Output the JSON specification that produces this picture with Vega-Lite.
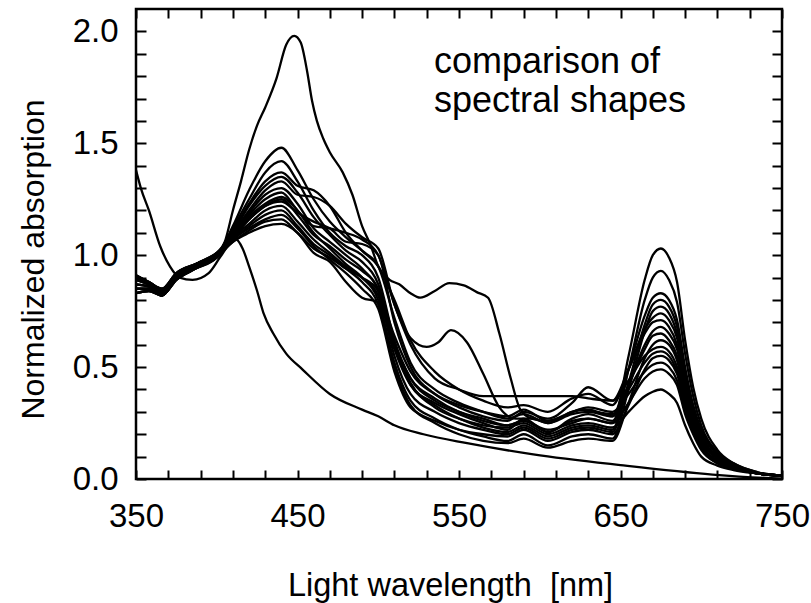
{
"$schema": "https://vega.github.io/schema/vega-lite/v6.json",
"width": 646, "height": 470,
"autosize": {"type": "none"},
"padding": {"left": 136, "top": 9, "right": 29, "bottom": 124},
"background": "white",
"config": {"view": {"stroke": "black", "strokeWidth": 2.5}, "font": "Liberation Sans"},
"datasets": {
"curves": [
{"c":"c1","x":350,"y":0.91},{"c":"c1","x":358,"y":0.88},{"c":"c1","x":366,"y":0.85},{"c":"c1","x":375,"y":0.92},{"c":"c1","x":387,"y":0.96},{"c":"c1","x":400,"y":1.00},{"c":"c1","x":410,"y":1.13},{"c":"c1","x":420,"y":1.29},{"c":"c1","x":430,"y":1.42},{"c":"c1","x":440,"y":1.48},{"c":"c1","x":450,"y":1.38},{"c":"c1","x":460,"y":1.25},{"c":"c1","x":470,"y":1.15},{"c":"c1","x":480,"y":1.08},{"c":"c1","x":490,"y":1.02},{"c":"c1","x":500,"y":0.95},{"c":"c1","x":510,"y":0.72},{"c":"c1","x":520,"y":0.52},{"c":"c1","x":535,"y":0.40},{"c":"c1","x":550,"y":0.34},{"c":"c1","x":565,"y":0.30},{"c":"c1","x":580,"y":0.27},{"c":"c1","x":590,"y":0.29},{"c":"c1","x":605,"y":0.25},{"c":"c1","x":620,"y":0.30},{"c":"c1","x":630,"y":0.31},{"c":"c1","x":645,"y":0.28},{"c":"c1","x":655,"y":0.49},{"c":"c1","x":665,"y":0.73},{"c":"c1","x":670,"y":0.81},{"c":"c1","x":675,"y":0.83},{"c":"c1","x":680,"y":0.80},{"c":"c1","x":685,"y":0.71},{"c":"c1","x":690,"y":0.50},{"c":"c1","x":695,"y":0.33},{"c":"c1","x":700,"y":0.22},{"c":"c1","x":710,"y":0.11},{"c":"c1","x":720,"y":0.06},{"c":"c1","x":735,"y":0.025},{"c":"c1","x":750,"y":0.015},
{"c":"c2","x":350,"y":0.89},{"c":"c2","x":358,"y":0.87},{"c":"c2","x":366,"y":0.84},{"c":"c2","x":375,"y":0.91},{"c":"c2","x":387,"y":0.95},{"c":"c2","x":400,"y":0.99},{"c":"c2","x":410,"y":1.12},{"c":"c2","x":420,"y":1.25},{"c":"c2","x":430,"y":1.37},{"c":"c2","x":440,"y":1.42},{"c":"c2","x":450,"y":1.33},{"c":"c2","x":460,"y":1.20},{"c":"c2","x":470,"y":1.10},{"c":"c2","x":480,"y":1.04},{"c":"c2","x":490,"y":1.00},{"c":"c2","x":500,"y":0.90},{"c":"c2","x":510,"y":0.62},{"c":"c2","x":520,"y":0.45},{"c":"c2","x":535,"y":0.35},{"c":"c2","x":550,"y":0.30},{"c":"c2","x":565,"y":0.26},{"c":"c2","x":580,"y":0.24},{"c":"c2","x":590,"y":0.26},{"c":"c2","x":605,"y":0.21},{"c":"c2","x":620,"y":0.26},{"c":"c2","x":630,"y":0.27},{"c":"c2","x":645,"y":0.25},{"c":"c2","x":655,"y":0.55},{"c":"c2","x":665,"y":0.89},{"c":"c2","x":670,"y":1.00},{"c":"c2","x":675,"y":1.03},{"c":"c2","x":680,"y":0.99},{"c":"c2","x":685,"y":0.88},{"c":"c2","x":690,"y":0.62},{"c":"c2","x":695,"y":0.41},{"c":"c2","x":700,"y":0.27},{"c":"c2","x":710,"y":0.13},{"c":"c2","x":720,"y":0.07},{"c":"c2","x":735,"y":0.03},{"c":"c2","x":750,"y":0.015},
{"c":"c3","x":350,"y":0.87},{"c":"c3","x":358,"y":0.86},{"c":"c3","x":366,"y":0.83},{"c":"c3","x":375,"y":0.90},{"c":"c3","x":387,"y":0.95},{"c":"c3","x":400,"y":1.00},{"c":"c3","x":410,"y":1.11},{"c":"c3","x":420,"y":1.23},{"c":"c3","x":430,"y":1.33},{"c":"c3","x":440,"y":1.37},{"c":"c3","x":450,"y":1.31},{"c":"c3","x":460,"y":1.29},{"c":"c3","x":470,"y":1.22},{"c":"c3","x":480,"y":1.10},{"c":"c3","x":490,"y":1.02},{"c":"c3","x":500,"y":0.95},{"c":"c3","x":510,"y":0.80},{"c":"c3","x":520,"y":0.62},{"c":"c3","x":535,"y":0.48},{"c":"c3","x":550,"y":0.40},{"c":"c3","x":565,"y":0.35},{"c":"c3","x":580,"y":0.32},{"c":"c3","x":590,"y":0.33},{"c":"c3","x":605,"y":0.30},{"c":"c3","x":620,"y":0.36},{"c":"c3","x":630,"y":0.38},{"c":"c3","x":645,"y":0.33},{"c":"c3","x":655,"y":0.49},{"c":"c3","x":665,"y":0.67},{"c":"c3","x":670,"y":0.72},{"c":"c3","x":675,"y":0.74},{"c":"c3","x":680,"y":0.71},{"c":"c3","x":685,"y":0.63},{"c":"c3","x":690,"y":0.44},{"c":"c3","x":695,"y":0.30},{"c":"c3","x":700,"y":0.19},{"c":"c3","x":710,"y":0.10},{"c":"c3","x":720,"y":0.06},{"c":"c3","x":735,"y":0.025},{"c":"c3","x":750,"y":0.015},
{"c":"c4","x":350,"y":0.85},{"c":"c4","x":358,"y":0.85},{"c":"c4","x":366,"y":0.82},{"c":"c4","x":375,"y":0.89},{"c":"c4","x":387,"y":0.94},{"c":"c4","x":400,"y":0.99},{"c":"c4","x":410,"y":1.10},{"c":"c4","x":420,"y":1.22},{"c":"c4","x":430,"y":1.31},{"c":"c4","x":440,"y":1.35},{"c":"c4","x":450,"y":1.28},{"c":"c4","x":460,"y":1.17},{"c":"c4","x":470,"y":1.09},{"c":"c4","x":480,"y":1.02},{"c":"c4","x":490,"y":0.97},{"c":"c4","x":500,"y":0.87},{"c":"c4","x":510,"y":0.60},{"c":"c4","x":520,"y":0.42},{"c":"c4","x":535,"y":0.33},{"c":"c4","x":550,"y":0.27},{"c":"c4","x":565,"y":0.23},{"c":"c4","x":580,"y":0.21},{"c":"c4","x":590,"y":0.24},{"c":"c4","x":605,"y":0.19},{"c":"c4","x":620,"y":0.23},{"c":"c4","x":630,"y":0.24},{"c":"c4","x":645,"y":0.22},{"c":"c4","x":655,"y":0.49},{"c":"c4","x":665,"y":0.80},{"c":"c4","x":670,"y":0.90},{"c":"c4","x":675,"y":0.93},{"c":"c4","x":680,"y":0.89},{"c":"c4","x":685,"y":0.79},{"c":"c4","x":690,"y":0.56},{"c":"c4","x":695,"y":0.37},{"c":"c4","x":700,"y":0.24},{"c":"c4","x":710,"y":0.12},{"c":"c4","x":720,"y":0.07},{"c":"c4","x":735,"y":0.03},{"c":"c4","x":750,"y":0.015},
{"c":"c5","x":350,"y":0.83},{"c":"c5","x":358,"y":0.84},{"c":"c5","x":366,"y":0.82},{"c":"c5","x":375,"y":0.90},{"c":"c5","x":387,"y":0.96},{"c":"c5","x":400,"y":1.01},{"c":"c5","x":410,"y":1.10},{"c":"c5","x":420,"y":1.20},{"c":"c5","x":430,"y":1.29},{"c":"c5","x":440,"y":1.33},{"c":"c5","x":450,"y":1.27},{"c":"c5","x":460,"y":1.26},{"c":"c5","x":470,"y":1.22},{"c":"c5","x":480,"y":1.14},{"c":"c5","x":490,"y":1.08},{"c":"c5","x":500,"y":1.03},{"c":"c5","x":510,"y":0.78},{"c":"c5","x":520,"y":0.63},{"c":"c5","x":530,"y":0.59},{"c":"c5","x":537,"y":0.61},{"c":"c5","x":545,"y":0.665},{"c":"c5","x":555,"y":0.61},{"c":"c5","x":565,"y":0.47},{"c":"c5","x":575,"y":0.32},{"c":"c5","x":585,"y":0.27},{"c":"c5","x":595,"y":0.27},{"c":"c5","x":605,"y":0.25},{"c":"c5","x":620,"y":0.29},{"c":"c5","x":630,"y":0.30},{"c":"c5","x":645,"y":0.28},{"c":"c5","x":655,"y":0.42},{"c":"c5","x":665,"y":0.58},{"c":"c5","x":670,"y":0.64},{"c":"c5","x":675,"y":0.65},{"c":"c5","x":680,"y":0.62},{"c":"c5","x":685,"y":0.55},{"c":"c5","x":690,"y":0.39},{"c":"c5","x":695,"y":0.26},{"c":"c5","x":700,"y":0.17},{"c":"c5","x":710,"y":0.09},{"c":"c5","x":720,"y":0.05},{"c":"c5","x":735,"y":0.025},{"c":"c5","x":750,"y":0.015},
{"c":"c6","x":350,"y":0.91},{"c":"c6","x":358,"y":0.88},{"c":"c6","x":366,"y":0.85},{"c":"c6","x":375,"y":0.92},{"c":"c6","x":387,"y":0.96},{"c":"c6","x":400,"y":1.00},{"c":"c6","x":410,"y":1.09},{"c":"c6","x":420,"y":1.19},{"c":"c6","x":430,"y":1.27},{"c":"c6","x":440,"y":1.30},{"c":"c6","x":450,"y":1.23},{"c":"c6","x":460,"y":1.12},{"c":"c6","x":470,"y":1.06},{"c":"c6","x":480,"y":1.00},{"c":"c6","x":490,"y":0.94},{"c":"c6","x":500,"y":0.84},{"c":"c6","x":510,"y":0.55},{"c":"c6","x":520,"y":0.38},{"c":"c6","x":535,"y":0.30},{"c":"c6","x":550,"y":0.25},{"c":"c6","x":565,"y":0.22},{"c":"c6","x":580,"y":0.20},{"c":"c6","x":590,"y":0.23},{"c":"c6","x":605,"y":0.18},{"c":"c6","x":620,"y":0.22},{"c":"c6","x":630,"y":0.23},{"c":"c6","x":645,"y":0.21},{"c":"c6","x":655,"y":0.43},{"c":"c6","x":665,"y":0.69},{"c":"c6","x":670,"y":0.78},{"c":"c6","x":675,"y":0.80},{"c":"c6","x":680,"y":0.77},{"c":"c6","x":685,"y":0.68},{"c":"c6","x":690,"y":0.48},{"c":"c6","x":695,"y":0.32},{"c":"c6","x":700,"y":0.21},{"c":"c6","x":710,"y":0.11},{"c":"c6","x":720,"y":0.06},{"c":"c6","x":735,"y":0.025},{"c":"c6","x":750,"y":0.015},
{"c":"c7","x":350,"y":0.89},{"c":"c7","x":358,"y":0.87},{"c":"c7","x":366,"y":0.84},{"c":"c7","x":375,"y":0.91},{"c":"c7","x":387,"y":0.95},{"c":"c7","x":400,"y":0.99},{"c":"c7","x":410,"y":1.09},{"c":"c7","x":420,"y":1.18},{"c":"c7","x":430,"y":1.25},{"c":"c7","x":440,"y":1.28},{"c":"c7","x":450,"y":1.20},{"c":"c7","x":460,"y":1.13},{"c":"c7","x":470,"y":1.12},{"c":"c7","x":480,"y":1.10},{"c":"c7","x":490,"y":1.07},{"c":"c7","x":500,"y":1.00},{"c":"c7","x":510,"y":0.78},{"c":"c7","x":520,"y":0.60},{"c":"c7","x":535,"y":0.45},{"c":"c7","x":550,"y":0.40},{"c":"c7","x":565,"y":0.37},{"c":"c7","x":580,"y":0.37},{"c":"c7","x":590,"y":0.37},{"c":"c7","x":605,"y":0.37},{"c":"c7","x":620,"y":0.37},{"c":"c7","x":630,"y":0.36},{"c":"c7","x":645,"y":0.35},{"c":"c7","x":655,"y":0.44},{"c":"c7","x":665,"y":0.55},{"c":"c7","x":670,"y":0.58},{"c":"c7","x":675,"y":0.59},{"c":"c7","x":680,"y":0.57},{"c":"c7","x":685,"y":0.50},{"c":"c7","x":690,"y":0.35},{"c":"c7","x":695,"y":0.24},{"c":"c7","x":700,"y":0.15},{"c":"c7","x":710,"y":0.08},{"c":"c7","x":720,"y":0.05},{"c":"c7","x":735,"y":0.025},{"c":"c7","x":750,"y":0.015},
{"c":"c8","x":350,"y":0.87},{"c":"c8","x":358,"y":0.86},{"c":"c8","x":366,"y":0.83},{"c":"c8","x":375,"y":0.90},{"c":"c8","x":387,"y":0.95},{"c":"c8","x":400,"y":1.00},{"c":"c8","x":410,"y":1.08},{"c":"c8","x":420,"y":1.17},{"c":"c8","x":430,"y":1.23},{"c":"c8","x":440,"y":1.26},{"c":"c8","x":450,"y":1.20},{"c":"c8","x":460,"y":1.10},{"c":"c8","x":470,"y":1.03},{"c":"c8","x":480,"y":0.96},{"c":"c8","x":490,"y":0.90},{"c":"c8","x":500,"y":0.80},{"c":"c8","x":510,"y":0.52},{"c":"c8","x":520,"y":0.35},{"c":"c8","x":535,"y":0.27},{"c":"c8","x":550,"y":0.22},{"c":"c8","x":565,"y":0.19},{"c":"c8","x":580,"y":0.17},{"c":"c8","x":590,"y":0.20},{"c":"c8","x":605,"y":0.15},{"c":"c8","x":620,"y":0.19},{"c":"c8","x":630,"y":0.20},{"c":"c8","x":645,"y":0.18},{"c":"c8","x":655,"y":0.40},{"c":"c8","x":665,"y":0.66},{"c":"c8","x":670,"y":0.75},{"c":"c8","x":675,"y":0.77},{"c":"c8","x":680,"y":0.74},{"c":"c8","x":685,"y":0.65},{"c":"c8","x":690,"y":0.46},{"c":"c8","x":695,"y":0.31},{"c":"c8","x":700,"y":0.20},{"c":"c8","x":710,"y":0.10},{"c":"c8","x":720,"y":0.06},{"c":"c8","x":735,"y":0.025},{"c":"c8","x":750,"y":0.015},
{"c":"c9","x":350,"y":0.85},{"c":"c9","x":358,"y":0.85},{"c":"c9","x":366,"y":0.82},{"c":"c9","x":375,"y":0.89},{"c":"c9","x":387,"y":0.94},{"c":"c9","x":400,"y":0.99},{"c":"c9","x":410,"y":1.08},{"c":"c9","x":420,"y":1.16},{"c":"c9","x":430,"y":1.22},{"c":"c9","x":440,"y":1.24},{"c":"c9","x":450,"y":1.19},{"c":"c9","x":460,"y":1.15},{"c":"c9","x":470,"y":1.12},{"c":"c9","x":480,"y":1.06},{"c":"c9","x":490,"y":1.05},{"c":"c9","x":500,"y":1.00},{"c":"c9","x":510,"y":0.70},{"c":"c9","x":520,"y":0.50},{"c":"c9","x":535,"y":0.38},{"c":"c9","x":550,"y":0.32},{"c":"c9","x":565,"y":0.28},{"c":"c9","x":580,"y":0.26},{"c":"c9","x":590,"y":0.30},{"c":"c9","x":605,"y":0.27},{"c":"c9","x":620,"y":0.34},{"c":"c9","x":630,"y":0.41},{"c":"c9","x":645,"y":0.35},{"c":"c9","x":655,"y":0.49},{"c":"c9","x":665,"y":0.65},{"c":"c9","x":670,"y":0.70},{"c":"c9","x":675,"y":0.71},{"c":"c9","x":680,"y":0.68},{"c":"c9","x":685,"y":0.60},{"c":"c9","x":690,"y":0.43},{"c":"c9","x":695,"y":0.28},{"c":"c9","x":700,"y":0.18},{"c":"c9","x":710,"y":0.10},{"c":"c9","x":720,"y":0.06},{"c":"c9","x":735,"y":0.025},{"c":"c9","x":750,"y":0.015},
{"c":"c10","x":350,"y":0.83},{"c":"c10","x":358,"y":0.84},{"c":"c10","x":366,"y":0.82},{"c":"c10","x":375,"y":0.90},{"c":"c10","x":387,"y":0.96},{"c":"c10","x":400,"y":1.01},{"c":"c10","x":410,"y":1.08},{"c":"c10","x":420,"y":1.14},{"c":"c10","x":430,"y":1.20},{"c":"c10","x":440,"y":1.22},{"c":"c10","x":450,"y":1.15},{"c":"c10","x":460,"y":1.07},{"c":"c10","x":470,"y":1.01},{"c":"c10","x":480,"y":0.95},{"c":"c10","x":490,"y":0.90},{"c":"c10","x":500,"y":0.82},{"c":"c10","x":510,"y":0.58},{"c":"c10","x":520,"y":0.42},{"c":"c10","x":535,"y":0.34},{"c":"c10","x":550,"y":0.29},{"c":"c10","x":565,"y":0.25},{"c":"c10","x":580,"y":0.22},{"c":"c10","x":590,"y":0.27},{"c":"c10","x":605,"y":0.21},{"c":"c10","x":620,"y":0.27},{"c":"c10","x":630,"y":0.29},{"c":"c10","x":645,"y":0.26},{"c":"c10","x":655,"y":0.42},{"c":"c10","x":665,"y":0.60},{"c":"c10","x":670,"y":0.66},{"c":"c10","x":675,"y":0.68},{"c":"c10","x":680,"y":0.65},{"c":"c10","x":685,"y":0.58},{"c":"c10","x":690,"y":0.41},{"c":"c10","x":695,"y":0.27},{"c":"c10","x":700,"y":0.18},{"c":"c10","x":710,"y":0.09},{"c":"c10","x":720,"y":0.05},{"c":"c10","x":735,"y":0.025},{"c":"c10","x":750,"y":0.015},
{"c":"c11","x":350,"y":0.91},{"c":"c11","x":358,"y":0.88},{"c":"c11","x":366,"y":0.85},{"c":"c11","x":375,"y":0.92},{"c":"c11","x":387,"y":0.96},{"c":"c11","x":400,"y":1.00},{"c":"c11","x":410,"y":1.07},{"c":"c11","x":420,"y":1.13},{"c":"c11","x":430,"y":1.18},{"c":"c11","x":440,"y":1.20},{"c":"c11","x":450,"y":1.13},{"c":"c11","x":460,"y":1.05},{"c":"c11","x":470,"y":1.00},{"c":"c11","x":480,"y":0.94},{"c":"c11","x":490,"y":0.88},{"c":"c11","x":500,"y":0.78},{"c":"c11","x":510,"y":0.50},{"c":"c11","x":520,"y":0.33},{"c":"c11","x":535,"y":0.25},{"c":"c11","x":550,"y":0.20},{"c":"c11","x":565,"y":0.17},{"c":"c11","x":580,"y":0.16},{"c":"c11","x":590,"y":0.18},{"c":"c11","x":605,"y":0.14},{"c":"c11","x":620,"y":0.17},{"c":"c11","x":630,"y":0.18},{"c":"c11","x":645,"y":0.17},{"c":"c11","x":655,"y":0.34},{"c":"c11","x":665,"y":0.54},{"c":"c11","x":670,"y":0.60},{"c":"c11","x":675,"y":0.62},{"c":"c11","x":680,"y":0.60},{"c":"c11","x":685,"y":0.53},{"c":"c11","x":690,"y":0.37},{"c":"c11","x":695,"y":0.25},{"c":"c11","x":700,"y":0.16},{"c":"c11","x":710,"y":0.08},{"c":"c11","x":720,"y":0.05},{"c":"c11","x":735,"y":0.025},{"c":"c11","x":750,"y":0.015},
{"c":"c12","x":350,"y":0.89},{"c":"c12","x":358,"y":0.87},{"c":"c12","x":366,"y":0.84},{"c":"c12","x":375,"y":0.91},{"c":"c12","x":387,"y":0.95},{"c":"c12","x":400,"y":0.99},{"c":"c12","x":410,"y":1.07},{"c":"c12","x":420,"y":1.12},{"c":"c12","x":430,"y":1.16},{"c":"c12","x":440,"y":1.18},{"c":"c12","x":450,"y":1.12},{"c":"c12","x":460,"y":1.04},{"c":"c12","x":470,"y":0.98},{"c":"c12","x":480,"y":0.92},{"c":"c12","x":490,"y":0.85},{"c":"c12","x":500,"y":0.76},{"c":"c12","x":510,"y":0.48},{"c":"c12","x":520,"y":0.32},{"c":"c12","x":535,"y":0.26},{"c":"c12","x":550,"y":0.22},{"c":"c12","x":565,"y":0.20},{"c":"c12","x":580,"y":0.19},{"c":"c12","x":590,"y":0.22},{"c":"c12","x":605,"y":0.17},{"c":"c12","x":620,"y":0.21},{"c":"c12","x":630,"y":0.22},{"c":"c12","x":645,"y":0.20},{"c":"c12","x":655,"y":0.33},{"c":"c12","x":665,"y":0.49},{"c":"c12","x":670,"y":0.54},{"c":"c12","x":675,"y":0.55},{"c":"c12","x":680,"y":0.53},{"c":"c12","x":685,"y":0.47},{"c":"c12","x":690,"y":0.33},{"c":"c12","x":695,"y":0.22},{"c":"c12","x":700,"y":0.14},{"c":"c12","x":710,"y":0.08},{"c":"c12","x":720,"y":0.05},{"c":"c12","x":735,"y":0.025},{"c":"c12","x":750,"y":0.015},
{"c":"c13","x":350,"y":0.87},{"c":"c13","x":358,"y":0.86},{"c":"c13","x":366,"y":0.83},{"c":"c13","x":375,"y":0.90},{"c":"c13","x":387,"y":0.95},{"c":"c13","x":400,"y":1.00},{"c":"c13","x":410,"y":1.06},{"c":"c13","x":420,"y":1.11},{"c":"c13","x":430,"y":1.15},{"c":"c13","x":440,"y":1.16},{"c":"c13","x":450,"y":1.10},{"c":"c13","x":460,"y":1.03},{"c":"c13","x":470,"y":0.99},{"c":"c13","x":480,"y":0.94},{"c":"c13","x":490,"y":0.90},{"c":"c13","x":500,"y":0.84},{"c":"c13","x":510,"y":0.64},{"c":"c13","x":520,"y":0.48},{"c":"c13","x":535,"y":0.38},{"c":"c13","x":550,"y":0.33},{"c":"c13","x":565,"y":0.30},{"c":"c13","x":580,"y":0.28},{"c":"c13","x":590,"y":0.31},{"c":"c13","x":605,"y":0.26},{"c":"c13","x":620,"y":0.30},{"c":"c13","x":630,"y":0.32},{"c":"c13","x":645,"y":0.30},{"c":"c13","x":655,"y":0.38},{"c":"c13","x":665,"y":0.48},{"c":"c13","x":670,"y":0.51},{"c":"c13","x":675,"y":0.52},{"c":"c13","x":680,"y":0.50},{"c":"c13","x":685,"y":0.44},{"c":"c13","x":690,"y":0.31},{"c":"c13","x":695,"y":0.21},{"c":"c13","x":700,"y":0.14},{"c":"c13","x":710,"y":0.07},{"c":"c13","x":720,"y":0.05},{"c":"c13","x":735,"y":0.025},{"c":"c13","x":750,"y":0.015},
{"c":"c14","x":350,"y":0.85},{"c":"c14","x":358,"y":0.85},{"c":"c14","x":366,"y":0.82},{"c":"c14","x":375,"y":0.89},{"c":"c14","x":387,"y":0.94},{"c":"c14","x":400,"y":0.99},{"c":"c14","x":410,"y":1.06},{"c":"c14","x":420,"y":1.10},{"c":"c14","x":430,"y":1.13},{"c":"c14","x":440,"y":1.14},{"c":"c14","x":450,"y":1.10},{"c":"c14","x":460,"y":1.01},{"c":"c14","x":470,"y":0.97},{"c":"c14","x":480,"y":0.88},{"c":"c14","x":490,"y":0.81},{"c":"c14","x":500,"y":0.79},{"c":"c14","x":510,"y":0.60},{"c":"c14","x":520,"y":0.45},{"c":"c14","x":535,"y":0.36},{"c":"c14","x":550,"y":0.30},{"c":"c14","x":565,"y":0.27},{"c":"c14","x":580,"y":0.24},{"c":"c14","x":590,"y":0.26},{"c":"c14","x":605,"y":0.22},{"c":"c14","x":620,"y":0.25},{"c":"c14","x":630,"y":0.27},{"c":"c14","x":645,"y":0.25},{"c":"c14","x":655,"y":0.34},{"c":"c14","x":665,"y":0.45},{"c":"c14","x":670,"y":0.48},{"c":"c14","x":675,"y":0.49},{"c":"c14","x":680,"y":0.47},{"c":"c14","x":685,"y":0.42},{"c":"c14","x":690,"y":0.29},{"c":"c14","x":695,"y":0.20},{"c":"c14","x":700,"y":0.13},{"c":"c14","x":710,"y":0.07},{"c":"c14","x":720,"y":0.045},{"c":"c14","x":735,"y":0.025},{"c":"c14","x":750,"y":0.015},
{"c":"c15","x":350,"y":0.83},{"c":"c15","x":358,"y":0.84},{"c":"c15","x":366,"y":0.82},{"c":"c15","x":375,"y":0.90},{"c":"c15","x":387,"y":0.96},{"c":"c15","x":400,"y":1.01},{"c":"c15","x":410,"y":1.08},{"c":"c15","x":420,"y":1.16},{"c":"c15","x":430,"y":1.22},{"c":"c15","x":440,"y":1.25},{"c":"c15","x":450,"y":1.18},{"c":"c15","x":460,"y":1.09},{"c":"c15","x":470,"y":1.04},{"c":"c15","x":480,"y":0.98},{"c":"c15","x":490,"y":0.93},{"c":"c15","x":500,"y":0.85},{"c":"c15","x":510,"y":0.60},{"c":"c15","x":520,"y":0.43},{"c":"c15","x":535,"y":0.32},{"c":"c15","x":550,"y":0.27},{"c":"c15","x":565,"y":0.24},{"c":"c15","x":580,"y":0.23},{"c":"c15","x":590,"y":0.25},{"c":"c15","x":605,"y":0.20},{"c":"c15","x":620,"y":0.24},{"c":"c15","x":630,"y":0.25},{"c":"c15","x":645,"y":0.23},{"c":"c15","x":655,"y":0.30},{"c":"c15","x":665,"y":0.37},{"c":"c15","x":670,"y":0.39},{"c":"c15","x":675,"y":0.40},{"c":"c15","x":680,"y":0.38},{"c":"c15","x":685,"y":0.34},{"c":"c15","x":690,"y":0.24},{"c":"c15","x":695,"y":0.16},{"c":"c15","x":700,"y":0.10},{"c":"c15","x":710,"y":0.06},{"c":"c15","x":720,"y":0.04},{"c":"c15","x":735,"y":0.025},{"c":"c15","x":750,"y":0.015},
{"c":"car","x":350,"y":0.90},{"c":"car","x":358,"y":0.87},{"c":"car","x":366,"y":0.84},{"c":"car","x":375,"y":0.91},{"c":"car","x":387,"y":0.95},{"c":"car","x":400,"y":1.00},{"c":"car","x":405,"y":1.06},{"c":"car","x":410,"y":1.20},{"c":"car","x":415,"y":1.33},{"c":"car","x":420,"y":1.47},{"c":"car","x":425,"y":1.58},{"c":"car","x":430,"y":1.66},{"c":"car","x":437,"y":1.79},{"c":"car","x":443,"y":1.94},{"c":"car","x":448,"y":1.98},{"c":"car","x":452,"y":1.95},{"c":"car","x":456,"y":1.82},{"c":"car","x":459,"y":1.69},{"c":"car","x":462,"y":1.60},{"c":"car","x":466,"y":1.52},{"c":"car","x":470,"y":1.46},{"c":"car","x":478,"y":1.37},{"c":"car","x":484,"y":1.27},{"c":"car","x":490,"y":1.13},{"c":"car","x":495,"y":1.05},{"c":"car","x":500,"y":0.95},{"c":"car","x":507,"y":0.89},{"c":"car","x":513,"y":0.87},{"c":"car","x":520,"y":0.83},{"c":"car","x":526,"y":0.81},{"c":"car","x":535,"y":0.84},{"c":"car","x":544,"y":0.875},{"c":"car","x":553,"y":0.865},{"c":"car","x":561,"y":0.835},{"c":"car","x":568,"y":0.81},{"c":"car","x":575,"y":0.65},{"c":"car","x":582,"y":0.45},{"c":"car","x":588,"y":0.31},{"c":"car","x":595,"y":0.27},{"c":"car","x":605,"y":0.26},{"c":"car","x":615,"y":0.28},{"c":"car","x":625,"y":0.31},{"c":"car","x":635,"y":0.30},{"c":"car","x":645,"y":0.29},{"c":"car","x":655,"y":0.40},{"c":"car","x":665,"y":0.52},{"c":"car","x":670,"y":0.56},{"c":"car","x":675,"y":0.57},{"c":"car","x":680,"y":0.55},{"c":"car","x":685,"y":0.48},{"c":"car","x":690,"y":0.34},{"c":"car","x":695,"y":0.23},{"c":"car","x":700,"y":0.15},{"c":"car","x":710,"y":0.08},{"c":"car","x":720,"y":0.05},{"c":"car","x":735,"y":0.025},{"c":"car","x":750,"y":0.015},
{"c":"det","x":350,"y":1.38},{"c":"det","x":353,"y":1.30},{"c":"det","x":358,"y":1.20},{"c":"det","x":365,"y":1.04},{"c":"det","x":371,"y":0.95},{"c":"det","x":377,"y":0.90},{"c":"det","x":385,"y":0.89},{"c":"det","x":395,"y":0.92},{"c":"det","x":402,"y":0.99},{"c":"det","x":408,"y":1.05},{"c":"det","x":412,"y":1.07},{"c":"det","x":416,"y":1.03},{"c":"det","x":420,"y":0.95},{"c":"det","x":425,"y":0.84},{"c":"det","x":429,"y":0.74},{"c":"det","x":435,"y":0.65},{"c":"det","x":443,"y":0.56},{"c":"det","x":453,"y":0.49},{"c":"det","x":470,"y":0.38},{"c":"det","x":490,"y":0.31},{"c":"det","x":500,"y":0.28},{"c":"det","x":510,"y":0.24},{"c":"det","x":528,"y":0.20},{"c":"det","x":555,"y":0.16},{"c":"det","x":596,"y":0.11},{"c":"det","x":650,"y":0.062},{"c":"det","x":707,"y":0.02},{"c":"det","x":740,"y":0.005},{"c":"det","x":750,"y":0.002}
],
"notes": [
{"t":"comparison of","x":534.5,"y":1.8125},
{"t":"spectral shapes","x":534.5,"y":1.638}
]
},
"layer": [
{
"data": {"name": "curves"},
"mark": {"type": "line", "color": "black", "strokeWidth": 2.3, "interpolate": "monotone"},
"encoding": {
"x": {"field": "x", "type": "quantitative", "scale": {"domain": [350, 750], "nice": false, "zero": false},
"axis": {"orient": "bottom", "values": [350,370,390,410,430,450,470,490,510,530,550,570,590,610,630,650,670,690,710,730,750],
"labelExpr": "datum.value % 100 == 50 ? datum.label : ''", "format": "d",
"tickSize": -9,
"tickColor": "black", "tickWidth": 2, "domain": false, "grid": false,
"labelFontSize": 33, "labelColor": "black", "labelPadding": 30, "labelFlush": false, "labelOverlap": false, "labelBound": false,
"title": "Light wavelength\u00a0 [nm]", "titleFontSize": 32.5, "titleFontWeight": "normal", "titleColor": "black",
"titleX": 314, "titleY": 116, "titleBaseline": "alphabetic", "titleAnchor": "middle"}},
"y": {"field": "y", "type": "quantitative", "scale": {"domain": [0, 2.1], "nice": false, "zero": false},
"axis": {"orient": "left", "values": [0,0.1,0.2,0.3,0.4,0.5,0.6,0.7,0.8,0.9,1.0,1.1,1.2,1.3,1.4,1.5,1.6,1.7,1.8,1.9,2.0],
"format": ".1f",
"labelExpr": "abs(datum.value*2 - round(datum.value*2)) < 0.001 ? datum.label : ''",
"tickSize": -10,
"tickColor": "black", "tickWidth": 2, "domain": false, "grid": false,
"labelFontSize": 33, "labelColor": "black", "labelPadding": 28, "labelOverlap": false, "labelBound": false, "labelFlush": false,
"title": "Normalized absorption", "titleFontSize": 32, "titleFontWeight": "normal", "titleColor": "black",
"titleX": -93, "titleY": 250, "titleBaseline": "alphabetic", "titleAngle": -90, "titleAnchor": "middle"}},
"detail": {"field": "c"}
}
},
{
"data": {"name": "notes"},
"mark": {"type": "text", "align": "left", "baseline": "alphabetic", "fontSize": 36, "font": "Liberation Sans", "color": "black"},
"encoding": {
"x": {"field": "x", "type": "quantitative",
"axis": {"orient": "top", "values": [350,370,390,410,430,450,470,490,510,530,550,570,590,610,630,650,670,690,710,730,750],
"labels": true, "labelExpr": "''", "title": " ", "domain": true, "domainColor": "transparent",
"tickSize": -9, "tickColor": "black", "tickWidth": 2}},
"y": {"field": "y", "type": "quantitative",
"axis": {"orient": "right", "values": [0,0.1,0.2,0.3,0.4,0.5,0.6,0.7,0.8,0.9,1.0,1.1,1.2,1.3,1.4,1.5,1.6,1.7,1.8,1.9,2.0],
"labels": true, "labelExpr": "''", "title": " ", "domain": true, "domainColor": "transparent",
"tickSize": -10, "tickColor": "black", "tickWidth": 2}},
"text": {"field": "t"}
}
}
],
"resolve": {"axis": {"x": "independent", "y": "independent"}}
}
